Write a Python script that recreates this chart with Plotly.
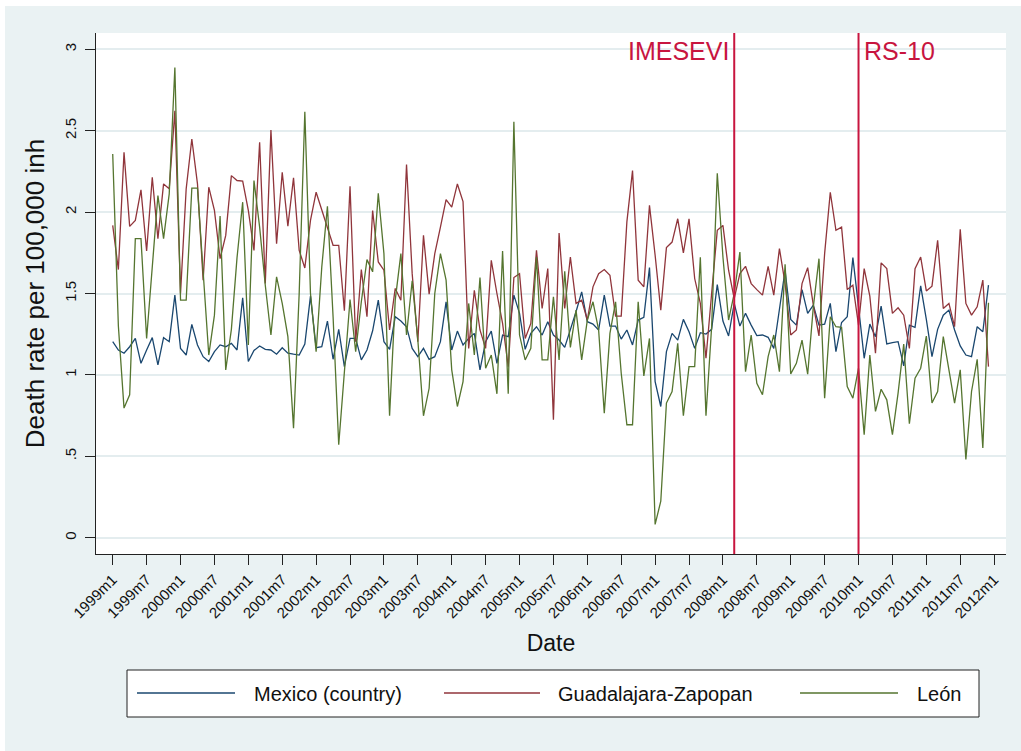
import plotly.graph_objects as go

# ---------------- data ----------------
months = [f"{y}m{m}" for y in range(1999, 2012) for m in range(1, 13)]

tick_labels = ["1999m1", "1999m7", "2000m1", "2000m7", "2001m1", "2001m7",
               "2002m1", "2002m7", "2003m1", "2003m7", "2004m1", "2004m7",
               "2005m1", "2005m7", "2006m1", "2006m7", "2007m1", "2007m7",
               "2008m1", "2008m7", "2009m1", "2009m7", "2010m1", "2010m7",
               "2011m1", "2011m7", "2012m1"]

y_tick_values = [0, 0.5, 1, 1.5, 2, 2.5, 3]
y_tick_labels = ["0", ".5", "1", "1.5", "2", "2.5", "3"]

series_names = ["Mexico (country)", "Guadalajara-Zapopan", "León"]

mexico = [
    1.204, 1.153, 1.133, 1.173, 1.224, 1.071, 1.153, 1.229, 1.061, 1.229, 1.204, 1.490,  # 1999
    1.163, 1.122, 1.310, 1.184, 1.112, 1.082, 1.143, 1.184, 1.173, 1.194, 1.153, 1.473,  # 2000
    1.082, 1.150, 1.178, 1.157, 1.153, 1.127, 1.167, 1.133, 1.127, 1.122, 1.190, 1.484,  # 2001
    1.167, 1.173, 1.331, 1.096, 1.280, 1.051, 1.224, 1.224, 1.092, 1.153, 1.271, 1.459,  # 2002
    1.204, 1.157, 1.357, 1.331, 1.296, 1.163, 1.112, 1.163, 1.096, 1.112, 1.204, 1.449,  # 2003
    1.153, 1.269, 1.184, 1.224, 1.255, 1.031, 1.204, 1.269, 1.071, 1.245, 1.235, 1.490,  # 2004
    1.378, 1.157, 1.255, 1.296, 1.245, 1.327, 1.245, 1.214, 1.169, 1.276, 1.388, 1.510,  # 2005
    1.327, 1.312, 1.276, 1.490, 1.300, 1.300, 1.220, 1.276, 1.184, 1.337, 1.353, 1.659,  # 2006
    0.959, 0.806, 1.143, 1.255, 1.214, 1.341, 1.265, 1.163, 1.259, 1.251, 1.280, 1.555,  # 2007
    1.331, 1.239, 1.439, 1.300, 1.378, 1.306, 1.241, 1.245, 1.231, 1.163, 1.408, 1.643,  # 2008
    1.341, 1.306, 1.524, 1.378, 1.429, 1.306, 1.312, 1.439, 1.143, 1.322, 1.357, 1.720,  # 2009
    1.418, 1.102, 1.312, 1.235, 1.422, 1.190, 1.198, 1.204, 1.055, 1.306, 1.292, 1.547,  # 2010
    1.341, 1.112, 1.280, 1.367, 1.398, 1.276, 1.178, 1.122, 1.112, 1.296, 1.265, 1.551,  # 2011
]

guadalajara = [
    1.918, 1.647, 2.367, 1.912, 1.949, 2.137, 1.761, 2.214, 1.837, 2.173, 2.143, 2.622,  # 1999
    1.500, 2.143, 2.449, 2.173, 1.582, 2.153, 2.010, 1.714, 1.857, 2.224, 2.194, 2.190,  # 2000
    2.010, 1.765, 2.429, 1.561, 2.504, 1.806, 2.245, 1.914, 2.210, 1.765, 1.657, 1.949,  # 2001
    2.122, 2.010, 1.898, 1.796, 1.796, 1.394, 2.159, 1.204, 1.647, 1.357, 2.010, 1.694,  # 2002
    1.643, 1.276, 1.531, 1.459, 2.292, 1.622, 1.204, 1.857, 1.496, 1.745, 1.908, 2.076,  # 2003
    2.031, 2.173, 2.065, 1.163, 1.520, 1.276, 1.163, 1.704, 1.500, 1.316, 1.051, 1.598,  # 2004
    1.622, 1.224, 1.316, 1.765, 1.408, 1.653, 0.724, 1.871, 1.408, 1.724, 1.439, 1.459,  # 2005
    1.337, 1.541, 1.622, 1.647, 1.612, 1.361, 1.361, 1.940, 2.255, 1.582, 1.541, 2.041,  # 2006
    1.735, 1.398, 1.782, 1.816, 1.959, 1.749, 1.959, 1.592, 1.439, 1.102, 1.500, 1.888,  # 2007
    1.918, 1.643, 1.469, 1.622, 1.667, 1.561, 1.524, 1.490, 1.667, 1.490, 1.776, 1.561,  # 2008
    1.245, 1.276, 1.561, 1.659, 1.429, 1.239, 1.745, 2.122, 1.888, 1.908, 1.524, 1.551,  # 2009
    1.306, 1.653, 1.484, 1.133, 1.688, 1.653, 1.378, 1.412, 1.367, 1.163, 1.653, 1.724,  # 2010
    1.516, 1.545, 1.827, 1.408, 1.439, 1.296, 1.894, 1.439, 1.367, 1.418, 1.582, 1.051,  # 2011
]

leon = [
    2.357, 1.300, 0.796, 0.878, 1.837, 1.837, 1.224, 1.650, 2.102, 1.837, 2.112, 2.888,  # 1999
    1.459, 1.459, 2.147, 2.147, 1.620, 1.122, 1.367, 1.976, 1.031, 1.280, 1.720, 2.061,  # 2000
    1.184, 2.194, 1.908, 1.551, 1.245, 1.602, 1.439, 1.235, 0.673, 1.500, 2.616, 1.500,  # 2001
    1.143, 1.663, 2.035, 1.357, 0.571, 1.031, 1.463, 1.143, 1.449, 1.708, 1.633, 2.116,  # 2002
    1.745, 0.749, 1.459, 1.745, 1.245, 1.578, 1.214, 0.749, 0.918, 1.500, 1.745, 1.582,  # 2003
    1.031, 0.806, 0.959, 1.439, 1.122, 1.598, 1.041, 1.122, 0.884, 1.761, 0.884, 2.555,  # 2004
    1.245, 1.092, 1.163, 1.724, 1.092, 1.092, 1.480, 1.092, 1.637, 1.169, 1.398, 1.092,  # 2005
    1.337, 1.449, 1.276, 0.765, 1.255, 1.449, 1.010, 0.694, 0.694, 1.449, 0.994, 1.224,  # 2006
    0.082, 0.224, 0.827, 0.898, 1.194, 0.749, 1.051, 1.051, 1.722, 0.749, 1.296, 2.239,  # 2007
    1.724, 1.337, 1.500, 1.755, 1.020, 1.245, 0.949, 0.878, 1.112, 1.245, 1.020, 1.680,  # 2008
    1.006, 1.071, 1.214, 1.004, 1.418, 1.714, 0.857, 1.357, 1.296, 1.292, 0.929, 0.857,  # 2009
    1.041, 0.633, 1.122, 0.776, 0.912, 0.847, 0.633, 0.888, 1.190, 0.700, 0.980, 1.041,  # 2010
    1.239, 0.827, 0.898, 1.235, 1.041, 0.827, 1.031, 0.480, 0.898, 1.096, 0.551, 1.443,  # 2011
]

event_months = ["2008m3", "2010m1"]
event_labels = ["IMESEVI", "RS-10"]


def tm(label):
    """Stata-style monthly date number (1960m1 = 0)."""
    y, m = label.split("m")
    return (int(y) - 1960) * 12 + int(m) - 1


# ---------------- styling ----------------
W, H = 1021, 751
L, R, T, B = 96, 15, 33, 197
PW, PH = W - L - R, H - T - B
FONT = "Liberation Sans, Arial, Helvetica, sans-serif"
BG = "#EAF2F3"
GRID = "#E4EDEF"
EVENT_COLOR = "#C8153F"
colors = ["#1A476F", "#90353B", "#55752F"]


def fx(px):
    return (px - L) / PW


def fy(py):
    return (H - B - py) / PH


x_vals = [tm(s) for s in months]

fig = go.Figure()
for name, vals, col in zip(series_names, [mexico, guadalajara, leon], colors):
    fig.add_trace(go.Scatter(x=x_vals, y=vals, mode="lines", name=name,
                             line=dict(color=col, width=1.3), showlegend=False))

shapes = []
annotations = []

# white strip at the top / left edge of the image
shapes.append(dict(type="rect", xref="paper", yref="paper", x0=fx(0), x1=fx(W),
                   y0=fy(6), y1=fy(0), fillcolor="white", line_width=0, layer="below"))
shapes.append(dict(type="rect", xref="paper", yref="paper", x0=fx(0), x1=fx(5),
                   y0=fy(H), y1=fy(0), fillcolor="white", line_width=0, layer="below"))

# event lines + labels
for ev, lab, side in zip(event_months, event_labels, ["right", "left"]):
    shapes.append(dict(type="line", xref="x", yref="paper", x0=tm(ev), x1=tm(ev),
                       y0=0, y1=1, line=dict(color=EVENT_COLOR, width=2)))
    annotations.append(dict(x=tm(ev), xref="x", y=fy(51), yref="paper", text=lab,
                            showarrow=False, xanchor=side, yanchor="middle",
                            xshift=-3 if side == "right" else 3,
                            font=dict(family=FONT, size=25, color=EVENT_COLOR)))

# legend box (drawn by hand to match Stata's wide keys)
shapes.append(dict(type="rect", xref="paper", yref="paper", x0=fx(127), x1=fx(979),
                   y0=fy(717), y1=fy(670), fillcolor="white",
                   line=dict(color="#222222", width=1)))
key_x = [(137, 235), (444, 540), (800, 898)]
text_x = [252, 556, 915]
for (k0, k1), tx, name, col in zip(key_x, text_x, series_names, colors):
    shapes.append(dict(type="line", xref="paper", yref="paper", x0=fx(k0), x1=fx(k1),
                       y0=fy(693), y1=fy(693), line=dict(color=col, width=1.3)))
    annotations.append(dict(x=fx(tx), xref="paper", y=fy(694), yref="paper", text=name,
                            showarrow=False, xanchor="left", yanchor="middle",
                            font=dict(family=FONT, size=20, color="#111111")))

fig.update_layout(
    width=W, height=H,
    margin=dict(l=L, r=R, t=T, b=B, pad=0),
    paper_bgcolor=BG, plot_bgcolor="white",
    font=dict(family=FONT, color="#111111"),
    shapes=shapes, annotations=annotations,
    showlegend=False,
    xaxis=dict(range=[465.04, 626.1], tickvals=[tm(t) for t in tick_labels],
               ticktext=tick_labels, tickangle=-45, ticks="outside", ticklen=10,
               tickcolor="#222222", showline=True, linecolor="#222222", linewidth=1,
               showgrid=False, zeroline=False,
               tickfont=dict(family=FONT, size=15, color="#111111"),
               title=dict(text="Date", font=dict(family=FONT, size=23, color="#111111"),
                          standoff=14)),
    yaxis=dict(range=[-0.1, 3.1], tickvals=y_tick_values, ticktext=y_tick_labels,
               tickangle=-90, ticks="outside", ticklen=10, tickcolor="#222222",
               showline=True, linecolor="#222222", linewidth=1,
               showgrid=True, gridcolor=GRID, gridwidth=1.5, zeroline=False,
               ticklabelstandoff=3,
               tickfont=dict(family=FONT, size=15, color="#111111"),
               title=dict(text="Death rate per 100,000 inh",
                          font=dict(family=FONT, size=26, color="#111111"),
                          standoff=9)),
)

fig.write_html("out.html",
               config={"displayModeBar": False},
               post_script="document.body.style.margin='0px';"
                           "document.body.style.overflow='hidden';")
